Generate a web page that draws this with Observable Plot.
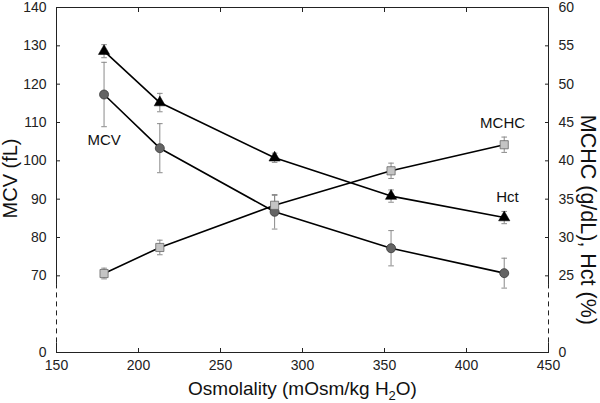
<!DOCTYPE html>
<html><head><meta charset="utf-8">
<script src="https://cdn.jsdelivr.net/npm/d3@7"></script>
<script src="https://cdn.jsdelivr.net/npm/@observablehq/plot@0.6"></script>
<style>
html,body{margin:0;padding:0;background:#fff}
svg{font-family:"Liberation Sans",Arial,sans-serif}
</style>
</head><body><div id="chart"></div>
<script>
// ---- data ----
const osmolality = [179, 213, 283, 354, 423];
const mcv      = [117.3, 103.3, 86.7, 77.2, 70.7];   // fL (left axis)
const mcvErr   = [8.4, 6.4, 4.5, 4.6, 3.9];
const hct      = [54.3, 47.6, 40.4, 35.4, 32.6];     // % (right axis)
const hctErr   = [0.85, 1.2, 0.6, 0.8, 0.8];
const mchc     = [25.3, 28.7, 34.2, 38.7, 42.1];     // g/dL (right axis)
const mchcErr  = [0.7, 0.95, 1.3, 1.0, 1.0];
const xTicks     = [150, 200, 250, 300, 350, 400, 450];
const leftTicks  = [0, 70, 80, 90, 100, 110, 120, 130, 140];
const rightTicks = [0, 25, 30, 35, 40, 45, 50, 55, 60];
const seriesLabels = [
  {text: "MCV",  x: 179, value: 105.4, axis: "left"},
  {text: "MCHC", x: 422, value: 44.85, axis: "right"},
  {text: "Hct",  x: 425, value: 35.2, axis: "right"}
];
const axisTitles = [
  {text: "MCV (fL)", x: 150, value: 95.4, axis: "left"},
  {text: "MCHC (g/dL), Hct (%)", x: 450, value: 32.3, axis: "right"}
];

// ---- axis break: value 0 is drawn at the bottom of a broken axis ----
const BREAK = 50;                 // left-axis units where "0" sits
const leftPos  = v => v === 0 ? BREAK : v;
const rightPos = v => v === 0 ? BREAK : 2 * v + 20;   // 25 -> 70, 60 -> 140
const xDomain = [150, 450];
const yDomain = [BREAK, 140];
const toPos = d => d.axis === "left" ? leftPos(d.value) : rightPos(d.value);

function rows(name, vals, errs, pos) {
  return vals.map((v, i) => ({
    series: name, x: osmolality[i], y: pos(v),
    y1: pos(v - errs[i]), y2: pos(v + errs[i])
  }));
}
const mcvRows  = rows("MCV", mcv, mcvErr, leftPos);
const hctRows  = rows("Hct", hct, hctErr, rightPos);
const mchcRows = rows("MCHC", mchc, mchcErr, rightPos);
const allRows = [...mcvRows, ...hctRows, ...mchcRows];

const cap = {draw(ctx) { ctx.moveTo(-2.8, 0); ctx.lineTo(2.8, 0); }};

const sides = [
  {x: xDomain[0], y1: 67.5, y2: yDomain[1], dash: null},
  {x: xDomain[0], y1: 52.5, y2: 67.5, dash: "5,4"},
  {x: xDomain[0], y1: yDomain[0], y2: 52.5, dash: null},
  {x: xDomain[1], y1: 67.5, y2: yDomain[1], dash: null},
  {x: xDomain[1], y1: 52.5, y2: 67.5, dash: "5,4"},
  {x: xDomain[1], y1: yDomain[0], y2: 52.5, dash: null}
];

const leftPositions = leftTicks.map(leftPos);
const rightPositions = rightTicks.map(rightPos);
const axisColor = "#222";

const chart = Plot.plot({
  width: 600, height: 403,
  marginLeft: 56, marginRight: 52, marginTop: 7, marginBottom: 51,
  x: {domain: xDomain, ticks: xTicks},
  y: {domain: yDomain},
  style: {fontFamily: '"Liberation Sans", Arial, sans-serif', color: axisColor},
  marks: [
    // axes tick labels + inward ticks
    Plot.axisX(xTicks, {anchor: "bottom", tickSize: -4, tickPadding: 12, fontSize: 14, label: null, stroke: axisColor}),
    Plot.axisX(xTicks, {anchor: "top", tickSize: -4, tickFormat: () => "", label: null, stroke: axisColor}),
    Plot.axisY(leftPositions, {anchor: "left", tickSize: -4, tickPadding: 14, fontSize: 14, label: null,
      tickFormat: d => String(leftTicks[leftPositions.indexOf(d)]), stroke: axisColor}),
    Plot.axisY(rightPositions, {anchor: "right", tickSize: -4, tickPadding: 14, fontSize: 14, label: null,
      tickFormat: d => String(rightTicks[rightPositions.indexOf(d)]), stroke: axisColor}),
    // frame (top/bottom) and broken sides
    Plot.ruleY(yDomain, {stroke: axisColor, strokeWidth: 1}),
    Plot.ruleX(sides.filter(d => !d.dash), {x: "x", y1: "y1", y2: "y2", stroke: axisColor, strokeWidth: 1}),
    Plot.ruleX(sides.filter(d => d.dash), {x: "x", y1: "y1", y2: "y2", stroke: axisColor, strokeWidth: 1, strokeDasharray: "5,4"}),
    // error bars
    Plot.ruleX(allRows, {x: "x", y1: "y1", y2: "y2", stroke: "#8a8a8a", strokeWidth: 1}),
    Plot.dot(allRows, {x: "x", y: "y1", symbol: cap, fill: "none", stroke: "#8a8a8a", strokeWidth: 1}),
    Plot.dot(allRows, {x: "x", y: "y2", symbol: cap, fill: "none", stroke: "#8a8a8a", strokeWidth: 1}),
    // lines
    Plot.line(allRows, {x: "x", y: "y", z: "series", stroke: "#000", strokeWidth: 1.6}),
    // markers
    Plot.dot(mcvRows, {x: "x", y: "y", r: 4.5, fill: "#646464", stroke: "#3a3a3a", strokeWidth: 0.8}),
    Plot.dot(mchcRows, {x: "x", y: "y", symbol: "square", r: 4.6, fill: "#c4c4c4", stroke: "#666", strokeWidth: 0.8}),
    Plot.dot(hctRows, {x: "x", y: "y", symbol: "triangle", r: 4.2, fill: "#000", stroke: "#000", strokeWidth: 0.5}),
    // series labels
    Plot.text(seriesLabels, {x: "x", y: toPos, text: "text", fontSize: 15, fill: "#111"}),
    // axis titles
    Plot.text(axisTitles.filter(d => d.axis === "left"), {x: "x", y: toPos, text: "text", rotate: -90, dx: -46, fontSize: 20, fill: "#111"}),
    Plot.text(axisTitles.filter(d => d.axis === "right"), {x: "x", y: toPos, text: "text", rotate: 90, dx: 39, fontSize: 21.5, fill: "#111"}),
    Plot.text(["Osmolality (mOsm/kg H2O)"], {frameAnchor: "bottom", dy: 42, fontSize: 19, fill: "#111"})
  ]
});
document.getElementById("chart").appendChild(chart);

// subscript the 2 in H2O (kept as real text)
chart.querySelectorAll("text").forEach(t => {
  if (t.textContent === "Osmolality (mOsm/kg H2O)") {
    const target = t.querySelector("tspan") || t;
    target.textContent = "";
    const ns = "http://www.w3.org/2000/svg";
    const a = document.createElementNS(ns, "tspan"); a.textContent = "Osmolality (mOsm/kg H";
    const b = document.createElementNS(ns, "tspan"); b.textContent = "2"; b.setAttribute("font-size", "13"); b.setAttribute("dy", "5");
    const c = document.createElementNS(ns, "tspan"); c.textContent = "O)"; c.setAttribute("dy", "-5");
    target.append(a, b, c);
  }
});
</script>
</body></html>
